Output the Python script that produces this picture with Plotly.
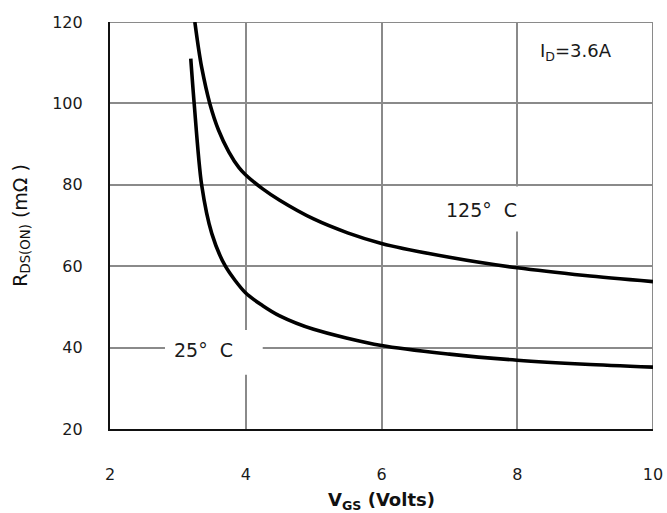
import plotly.graph_objects as go

# On-resistance vs. gate-source voltage, I_D = 3.6 A
vgs_125 = [3.25, 3.30, 3.35, 3.47, 3.60, 3.75, 3.90, 4.00, 4.25, 4.50, 5.00, 5.50, 6.00, 7.00, 8.00, 9.00, 10.0]
rds_125 = [120, 114, 108.9, 100, 93.4, 88.1, 84.2, 82.4, 79.0, 76.2, 71.6, 68.2, 65.6, 62.2, 59.6, 57.7, 56.2]

vgs_25 = [3.19, 3.24, 3.35, 3.50, 3.70, 4.00, 4.25, 4.50, 5.00, 6.00, 7.00, 8.00, 9.00, 10.0]
rds_25 = [111, 100, 80.0, 68.0, 60.0, 53.4, 50.3, 47.8, 44.5, 40.5, 38.4, 36.9, 35.9, 35.2]

x_ticks = [2, 4, 6, 8, 10]
y_ticks = [20, 40, 60, 80, 100, 120]

FONT = "DejaVu Sans, Verdana, sans-serif"
INK = "#1a1a1a"
GRID = "#8a8a8a"

curve = dict(color="black", width=3.6, shape="spline", smoothing=0.8)

fig = go.Figure()
fig.add_trace(go.Scatter(x=vgs_125, y=rds_125, mode="lines", line=curve, showlegend=False))
fig.add_trace(go.Scatter(x=vgs_25, y=rds_25, mode="lines", line=curve, showlegend=False))

# white boxes behind the temperature labels (between gridlines and curves)
fig.add_shape(type="rect", x0=2.81, x1=4.25, y0=33.3, y1=44.3, xref="x", yref="y",
              fillcolor="white", line_width=0, layer="between")
fig.add_shape(type="rect", x0=6.83, x1=8.44, y0=68.5, y1=79.6, xref="x", yref="y",
              fillcolor="white", line_width=0, layer="between")

label_font = dict(family=FONT, size=19, color=INK)
fig.add_annotation(x=3.38, y=39.4, xref="x", yref="y", text="25°\u00a0\u00a0C",
                   showarrow=False, font=label_font)
fig.add_annotation(x=7.48, y=73.8, xref="x", yref="y", text="125°\u00a0\u00a0C",
                   showarrow=False, font=label_font)
fig.add_annotation(x=8.86, y=112.6, xref="x", yref="y", text="I<sub>D</sub>=3.6A",
                   showarrow=False, font=dict(family=FONT, size=18, color=INK))

tick_font = dict(family=FONT, size=16, color=INK)
fig.update_xaxes(range=[2, 10], tickvals=x_ticks, showgrid=True, gridcolor=GRID,
                 gridwidth=1.6, showline=True, linecolor="#111", linewidth=2.2,
                 ticks="", ticklabelstandoff=30, tickfont=tick_font, zeroline=False,
                 automargin=False,
                 title=dict(text="<b>V<sub>GS</sub> (Volts)</b>", standoff=12,
                            font=dict(family=FONT, size=18, color="#111")))
fig.update_yaxes(range=[20, 120], tickvals=y_ticks, showgrid=True, gridcolor=GRID,
                 gridwidth=1.6, showline=True, linecolor="#111", linewidth=2.2,
                 ticks="", ticklabelstandoff=22, tickfont=tick_font, zeroline=False,
                 automargin=False,
                 title=dict(text="R<sub>DS(ON)</sub> (mΩ\u00a0)", standoff=20,
                            font=dict(family=FONT, size=19, color="#111")))

# right/top frame edges in grid grey
fig.add_shape(type="line", x0=10, x1=10, y0=20, y1=120, xref="x", yref="y",
              line=dict(color=GRID, width=2), layer="between")
fig.add_shape(type="line", x0=2, x1=10, y0=120, y1=120, xref="x", yref="y",
              line=dict(color=GRID, width=2), layer="between")

fig.update_layout(width=667, height=513, margin=dict(l=110, r=14, t=22, b=84),
                  plot_bgcolor="white", paper_bgcolor="white")

fig.write_html("out.html")
